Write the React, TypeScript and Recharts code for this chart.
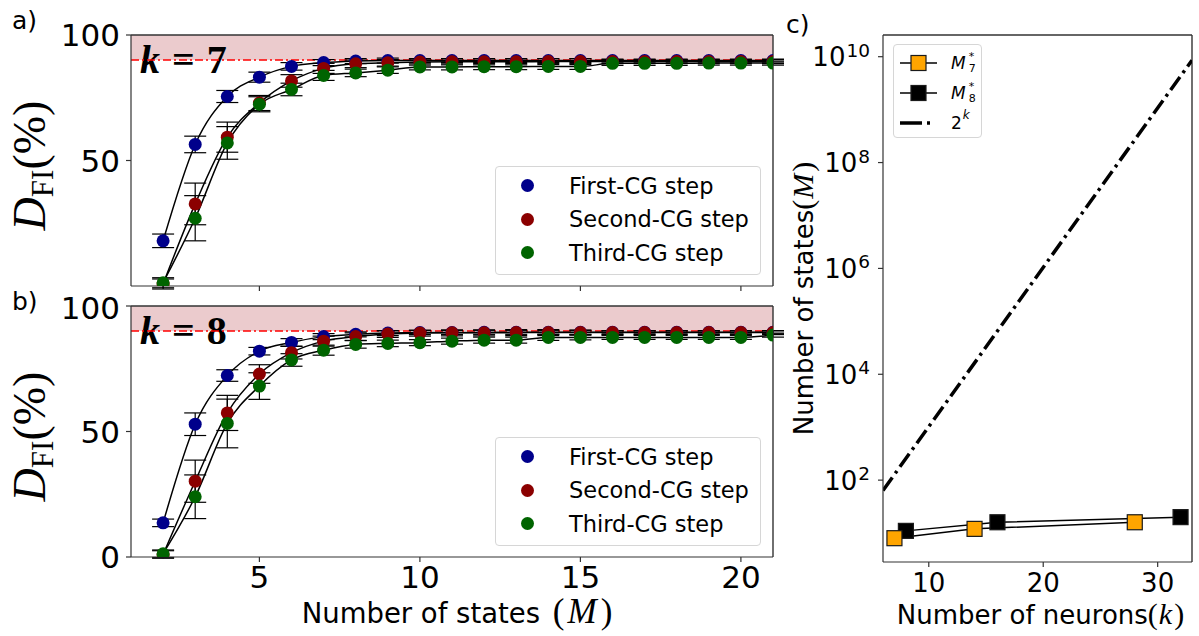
import React from 'react';
import {
  ComposedChart,
  Line,
  Scatter,
  XAxis,
  YAxis,
  ErrorBar,
  ReferenceArea,
  ReferenceLine,
  Legend,
  Label,
} from 'recharts';

const SANS = 'DejaVu Sans';
const SERIF = 'Liberation Serif';
const AXIS = '#333';

// number of states M used for the coarse-graining scans
const STATES = [2, 3, 4, 5, 6, 7, 8, 9, 10, 11, 12, 13, 14, 15, 16, 17, 18, 19, 20, 21];

// k = 7
const FIRST_K7 = [18, 56.4, 75.5, 83.2, 87.5, 89, 89.6, 89.8, 89.8, 89.8, 89.8, 89.8, 89.8, 89.8, 89.8, 89.8, 89.8, 89.8, 89.8, 89.8];
const SECOND_K7 = [0.8, 32.7, 59.3, 72.9, 81.7, 86.7, 88.5, 88.9, 89.2, 89.3, 89.3, 89.3, 89.4, 89.4, 89.4, 89.4, 89.4, 89.4, 89.4, 89.4];
const THIRD_K7 = [1.3, 27, 57, 72.4, 78.3, 83.9, 84.9, 86, 87.3, 87.3, 87.4, 87.4, 87.5, 87.5, 88.7, 88.7, 88.7, 88.8, 88.8, 88.8];
const FIRST_ERR_K7 = [2.7, 3.3, 2.4, 2, 1.5, 1.2, 1, 1, 0.8, 0.8, 0.8, 0.8, 0.8, 0.8, 0.6, 0.6, 0.6, 0.6, 0.6, 0.6];
const SECOND_ERR_K7 = [2, 8.3, 6, 3, 2.5, 2, 1.5, 1.3, 1.2, 1.2, 1.2, 1.2, 1.2, 1.2, 0.8, 0.8, 0.8, 0.8, 0.8, 0.8];
const THIRD_ERR_K7 = [2, 9, 6.5, 3, 2.5, 2, 1.5, 1.3, 1.2, 1.2, 1.2, 1.2, 1.2, 1.2, 0.8, 0.8, 0.8, 0.8, 0.8, 0.8];

// k = 8
const FIRST_K8 = [13.6, 52.9, 72.3, 82, 85.5, 87.8, 88.7, 89.2, 89.4, 89.4, 89.5, 89.5, 89.5, 89.5, 89.5, 89.5, 89.5, 89.5, 89.5, 89.5];
const SECOND_K8 = [1, 30.2, 57.4, 72.9, 81.4, 86, 87.8, 88.8, 89.2, 89.3, 89.3, 89.4, 89.4, 89.4, 89.4, 89.4, 89.4, 89.4, 89.4, 89.4];
const THIRD_K8 = [1.3, 24, 53.2, 68.1, 78.5, 82.4, 84.7, 85.1, 85.4, 86, 86.4, 86.4, 87.5, 87.5, 87.5, 87.5, 87.5, 87.5, 87.5, 88.4];
const FIRST_ERR_K8 = [1.5, 4.5, 2.3, 1.5, 1.5, 1.2, 1, 1, 0.8, 0.8, 0.8, 0.8, 0.8, 0.8, 0.6, 0.6, 0.6, 0.6, 0.6, 0.6];
const SECOND_ERR_K8 = [1.5, 8.4, 7, 3.7, 2.5, 2, 1.5, 1.3, 1.2, 1.2, 1.2, 1.2, 1.2, 1, 0.8, 0.8, 0.8, 0.8, 0.8, 0.8];
const THIRD_ERR_K8 = [1.5, 8.7, 9.7, 5.3, 2.5, 2, 1.5, 1.3, 1.2, 1.2, 1.2, 1.2, 1.2, 1, 0.8, 0.8, 0.8, 0.8, 0.8, 0.8];

// panel c: optimal number of states vs number of neurons
const NEURONS_M7 = [7, 14, 28];
const STATES_M7 = [8, 12, 16];
const NEURONS_M8 = [8, 16, 32];
const STATES_M8 = [11, 16, 20];
const NEURONS_EXP = [6, 33];
const STATES_EXP = [64, 8589934592];

const STEPS = [
  { key: 'first', name: 'First-CG step', color: '#00008b' },
  { key: 'second', name: 'Second-CG step', color: '#8b0000' },
  { key: 'third', name: 'Third-CG step', color: '#006400' },
];

function buildRows(first: number[], second: number[], third: number[], firstErr: number[], secondErr: number[], thirdErr: number[]) {
  return STATES.map((m, i) => ({
    m,
    first: first[i],
    second: second[i],
    third: third[i],
    firstErr: firstErr[i],
    secondErr: secondErr[i],
    thirdErr: thirdErr[i],
  }));
}

const pairs = (ks: number[], ms: number[]) => ks.map((k, i) => ({ k, M: ms[i] }));

const ROWS_K7 = buildRows(FIRST_K7, SECOND_K7, THIRD_K7, FIRST_ERR_K7, SECOND_ERR_K7, THIRD_ERR_K7);
const ROWS_K8 = buildRows(FIRST_K8, SECOND_K8, THIRD_K8, FIRST_ERR_K8, SECOND_ERR_K8, THIRD_ERR_K8);
const ROWS_M7 = pairs(NEURONS_M7, STATES_M7);
const ROWS_M8 = pairs(NEURONS_M8, STATES_M8);
const ROWS_EXP = pairs(NEURONS_EXP, STATES_EXP);

function StepLegend() {
  return (
    <div
      style={{
        boxSizing: 'border-box',
        width: 266,
        height: 109,
        paddingTop: 2,
        border: '1px solid #d6d6d6',
        borderRadius: 4,
        background: 'rgba(255,255,255,0.85)',
        fontFamily: SANS,
        fontSize: 22.5,
        color: '#000',
      }}
    >
      {STEPS.map((s) => (
        <div key={s.key} style={{ display: 'flex', alignItems: 'center', height: 33.6 }}>
          <span
            style={{
              display: 'inline-block',
              width: 13,
              height: 13,
              borderRadius: '50%',
              background: s.color,
              marginLeft: 25,
              marginRight: 35,
            }}
          />
          <span>{s.name}</span>
        </div>
      ))}
    </div>
  );
}

function DfiLabel(props: any) {
  const vb = props.viewBox || { y: 0, height: 0 };
  const cy = vb.y + vb.height / 2 + 5;
  return (
    <text transform={`translate(45, ${cy}) rotate(-90)`} textAnchor="middle" fontFamily={SERIF} fill="#000">
      <tspan fontSize={46} fontStyle="italic">D</tspan>
      <tspan fontSize={31} dy={8}>FI</tspan>
      <tspan fontSize={46} dy={-8}>(%)</tspan>
    </text>
  );
}

interface StatesPanelProps {
  rows: ReturnType<typeof buildRows>;
  k: number;
  top: number;
  height: number;
  marginTop: number;
  xAxisHeight: number;
  yTicks: number[];
  showXText: boolean;
  legendTop: number;
}

function StatesPanel({ rows, k, top, height, marginTop, xAxisHeight, yTicks, showXText, legendTop }: StatesPanelProps) {
  const tickStyle = { fontSize: 31, fill: '#000', fontFamily: SANS };
  return (
    <div style={{ position: 'absolute', left: 0, top }}>
      <ComposedChart width={790} height={height} data={rows} margin={{ top: marginTop, right: 17, bottom: 0, left: 0 }}>
        <XAxis
          dataKey="m"
          type="number"
          domain={[1, 21]}
          ticks={[5, 10, 15, 20]}
          allowDataOverflow
          height={xAxisHeight}
          tickSize={5}
          tickMargin={4}
          stroke={AXIS}
          strokeWidth={1.2}
          tick={tickStyle}
          tickFormatter={showXText ? undefined : () => ''}
        >
          {showXText && (
            <Label
              content={(p: any) => {
                const vb = p.viewBox;
                return (
                  <text x={vb.x + vb.width / 2 + 5} y={vb.y + 66} textAnchor="middle" fill="#000">
                    <tspan fontFamily={SANS} fontSize={27.5}>Number of states </tspan>
                    <tspan fontFamily={SERIF} fontSize={35} dx={4}>(</tspan>
                    <tspan fontFamily={SERIF} fontSize={35} fontStyle="italic" dx={3}>M</tspan>
                    <tspan fontFamily={SERIF} fontSize={35} dx={4}>)</tspan>
                  </text>
                );
              }}
            />
          )}
        </XAxis>
        <YAxis
          type="number"
          domain={[0, 100]}
          ticks={yTicks}
          allowDataOverflow
          width={131}
          tickSize={5}
          tickMargin={6}
          stroke={AXIS}
          strokeWidth={1.2}
          tick={tickStyle}
        >
          <Label content={DfiLabel} />
        </YAxis>

        <ReferenceArea y1={90} y2={100} fill="#ebcbcd" fillOpacity={1} stroke="none">
          <Label
            content={(p: any) => {
              const vb = p.viewBox;
              return (
                <text x={vb.x + 9} y={vb.y + 38} fontFamily={SERIF} fontWeight="bold" fontSize={40} fill="#000">
                  <tspan fontStyle="italic">k</tspan>
                  <tspan dx={12}>=</tspan>
                  <tspan dx={12}>{k}</tspan>
                </text>
              );
            }}
          />
        </ReferenceArea>
        <ReferenceLine y={90} stroke="#ff0000" strokeWidth={1.5} strokeDasharray="8 3 2 3" />

        {STEPS.map((s) => (
          <Scatter
            key={`pts-${s.key}`}
            dataKey={s.key}
            name={s.name}
            fill={s.color}
            isAnimationActive={false}
            shape={(p: any) => <circle cx={p.cx} cy={p.cy} r={6.5} fill={s.color} />}
          >
            <ErrorBar dataKey={`${s.key}Err`} direction="y" width={11} stroke="#000" strokeWidth={1.2} isAnimationActive={false} />
          </Scatter>
        ))}
        {STEPS.map((s) => (
          <Line
            key={`fit-${s.key}`}
            type="monotone"
            dataKey={s.key}
            stroke="#000"
            strokeWidth={1.5}
            dot={false}
            activeDot={false}
            legendType="none"
            isAnimationActive={false}
          />
        ))}

        {/* top and right frame lines */}
        <ReferenceLine y={100} stroke={AXIS} strokeWidth={1.4} />
        <ReferenceLine x={21} stroke={AXIS} strokeWidth={1.4} />

        <Legend
          layout="horizontal"
          verticalAlign="middle"
          align="center"
          wrapperStyle={{ left: 495, top: legendTop, width: 266, height: 109 }}
          content={() => <StepLegend />}
        />
      </ComposedChart>
    </div>
  );
}

function PowerTick(props: any) {
  const { x, y, payload } = props;
  const exp = Math.round(Math.log10(payload.value));
  return (
    <text x={x} y={y + 9.5} textAnchor="end" fontFamily={SANS} fill="#000">
      <tspan fontSize={26}>10</tspan>
      <tspan fontSize={18.5} dy={-9.5} dx={1}>{exp}</tspan>
    </text>
  );
}

const squareDot = (fill: string) => (p: any) => (
  <rect key={`sq-${fill}-${p.index}`} x={p.cx - 7.5} y={p.cy - 7.5} width={15} height={15} fill={fill} stroke="#1a1a1a" strokeWidth={1.2} />
);

// italic M with a star above and the index below
function MStar({ index }: { index: number }) {
  return (
    <span style={{ display: 'inline-flex', alignItems: 'center', marginLeft: 7 }}>
      <span style={{ fontStyle: 'italic' }}>M</span>
      <span style={{ display: 'inline-flex', flexDirection: 'column', fontSize: 11, lineHeight: '12px', marginLeft: 3 }}>
        <span>*</span>
        <span>{index}</span>
      </span>
    </span>
  );
}

function NeuronLegend() {
  const row = { display: 'flex', alignItems: 'center', height: 30 } as const;
  return (
    <div
      style={{
        boxSizing: 'border-box',
        width: 89,
        height: 94,
        paddingTop: 3,
        border: '1px solid #d6d6d6',
        borderRadius: 4,
        background: 'rgba(255,255,255,0.85)',
        fontFamily: SANS,
        fontSize: 17,
        color: '#000',
      }}
    >
      <div style={row}>
        <svg width={50} height={20}>
          <line x1={6} y1={10} x2={43} y2={10} stroke="#000" strokeWidth={1.5} />
          <rect x={17} y={2.5} width={15} height={15} fill="#ffa500" stroke="#1a1a1a" strokeWidth={1.2} />
        </svg>
        <MStar index={7} />
      </div>
      <div style={row}>
        <svg width={50} height={20}>
          <line x1={6} y1={10} x2={43} y2={10} stroke="#000" strokeWidth={1.5} />
          <rect x={17} y={2.5} width={15} height={15} fill="#000" stroke="#1a1a1a" strokeWidth={1.2} />
        </svg>
        <MStar index={8} />
      </div>
      <div style={row}>
        <svg width={50} height={20}>
          <line x1={6} y1={10} x2={43} y2={10} stroke="#000" strokeWidth={3.5} strokeDasharray="22 5 3 30" />
        </svg>
        <span style={{ marginLeft: 7 }}>2</span>
        <span style={{ fontSize: 12, fontStyle: 'italic', position: 'relative', top: -8, marginLeft: 1 }}>k</span>
      </div>
    </div>
  );
}

function NeuronsPanel() {
  return (
    <div style={{ position: 'absolute', left: 780, top: 0 }}>
      <ComposedChart width={419} height={636} margin={{ top: 35, right: 7, bottom: 0, left: 0 }}>
        <XAxis
          dataKey="k"
          type="number"
          domain={[6, 33]}
          ticks={[10, 20, 30]}
          allowDataOverflow
          height={74}
          tickSize={5}
          tickMargin={7}
          stroke={AXIS}
          strokeWidth={1.2}
          tick={{ fontSize: 26, fill: '#000', fontFamily: SANS }}
        >
          <Label
            content={(p: any) => {
              const vb = p.viewBox;
              return (
                <text x={vb.x + vb.width / 2 + 3} y={vb.y + 62} textAnchor="middle" fill="#000">
                  <tspan fontFamily={SANS} fontSize={26}>Number of neurons</tspan>
                  <tspan fontFamily={SERIF} fontSize={30}>(</tspan>
                  <tspan fontFamily={SERIF} fontSize={30} fontStyle="italic" dx={1}>k</tspan>
                  <tspan fontFamily={SERIF} fontSize={30} dx={2}>)</tspan>
                </text>
              );
            }}
          />
        </XAxis>
        <YAxis
          type="number"
          scale="log"
          domain={[2.84, 2.57e10]}
          ticks={[1e2, 1e4, 1e6, 1e8, 1e10]}
          allowDataOverflow
          width={103}
          tickSize={5}
          tickMargin={8}
          stroke={AXIS}
          strokeWidth={1.2}
          tick={PowerTick}
        >
          <Label
            content={(p: any) => {
              const vb = p.viewBox;
              const cy = vb.y + vb.height / 2;
              return (
                <text transform={`translate(33, ${cy}) rotate(-90)`} textAnchor="middle" fill="#000">
                  <tspan fontFamily={SANS} fontSize={26}>Number of states</tspan>
                  <tspan fontFamily={SERIF} fontSize={30}>(</tspan>
                  <tspan fontFamily={SERIF} fontSize={30} fontStyle="italic" dx={1}>M</tspan>
                  <tspan fontFamily={SERIF} fontSize={30} dx={2}>)</tspan>
                </text>
              );
            }}
          />
        </YAxis>
        {/* top and right frame lines */}
        <ReferenceLine y={2.57e10} stroke={AXIS} strokeWidth={1.4} />
        <ReferenceLine x={33} stroke={AXIS} strokeWidth={1.4} />

        <Line data={ROWS_EXP} dataKey="M" name="2^k" stroke="#000" strokeWidth={3.5} strokeDasharray="16 5 3 5" dot={false} activeDot={false} isAnimationActive={false} />
        <Line data={ROWS_M8} dataKey="M" name="M8*" stroke="#000" strokeWidth={1.5} dot={squareDot('#000')} activeDot={false} isAnimationActive={false} />
        <Line data={ROWS_M7} dataKey="M" name="M7*" stroke="#000" strokeWidth={1.5} dot={squareDot('#ffa500')} activeDot={false} isAnimationActive={false} />

        <Legend
          layout="horizontal"
          verticalAlign="middle"
          align="center"
          wrapperStyle={{ left: 113, top: 44, width: 89, height: 94 }}
          content={() => <NeuronLegend />}
        />
      </ComposedChart>
    </div>
  );
}

export default function App() {
  return (
    <div style={{ position: 'absolute', left: 0, top: 0, width: 1199, height: 636, background: '#fff' }}>
      <StatesPanel rows={ROWS_K7} k={7} top={0} height={300} marginTop={35} xAxisHeight={14} yTicks={[50, 100]} showXText={false} legendTop={166} />
      <StatesPanel rows={ROWS_K8} k={8} top={290} height={346} marginTop={16} xAxisHeight={79} yTicks={[0, 50, 100]} showXText legendTop={147} />
      <NeuronsPanel />
      <svg width={1199} height={636} style={{ position: 'absolute', left: 0, top: 0, pointerEvents: 'none' }}>
        <g fontFamily={SANS} fontSize={25} fill="#000">
          <text x={12} y={29}>a)</text>
          <text x={12} y={310}>b)</text>
          <text x={786} y={33}>c)</text>
        </g>
      </svg>
    </div>
  );
}
